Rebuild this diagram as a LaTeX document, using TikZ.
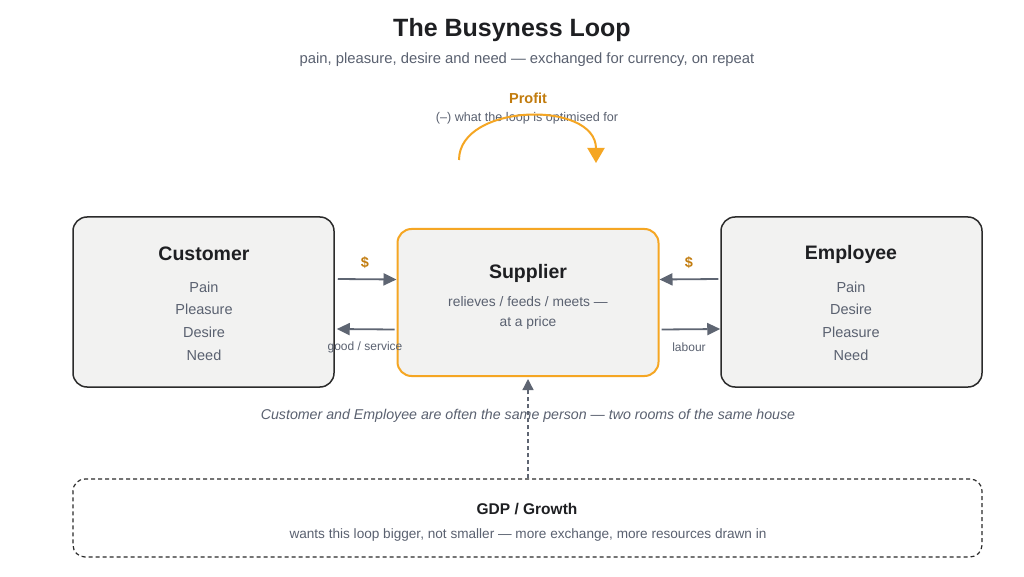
\documentclass[tikz,border=0pt]{standalone}
\usepackage{fontspec}
\setmainfont{Liberation Sans}
\usetikzlibrary{arrows.meta,positioning,calc}
\definecolor{ink}{HTML}{1E1F22}
\definecolor{muted}{HTML}{5A6170}
\definecolor{boxfill}{HTML}{F2F2F1}
\definecolor{boxline}{HTML}{2B2B2B}
\definecolor{gold}{HTML}{F5A623}
\definecolor{golddark}{HTML}{C27C0E}
\definecolor{flow}{HTML}{5E6572}
\begin{document}
\begin{tikzpicture}[x=1pt,y=-1pt,
    box/.style={draw=boxline, line width=1.5pt, fill=boxfill, rounded corners=14pt,
      minimum width=261pt, minimum height=170pt},
    supbox/.style={box, draw=gold, line width=2pt, minimum height=147pt},
    boxtitle/.style={font=\fontsize{19.5}{22}\selectfont\bfseries, text=ink},
    items/.style={font=\fontsize{14.5}{22.7}\selectfont, text=muted, align=center},
    flowarrow/.style={draw=flow, line width=1.8pt, -{Triangle[length=13pt,width=12pt]}},
    flowlabel/.style={font=\fontsize{12}{14}\selectfont, text=muted},
    money/.style={font=\fontsize{14.5}{16}\selectfont\bfseries, text=golddark}]
  \fill[white] (0,0) rectangle (1024,577);
  \useasboundingbox (0,0) rectangle (1024,577);

  % heading
  \node[font=\fontsize{25}{28}\selectfont\bfseries, text=ink] (title) at (512,30) {The Busyness Loop};
  \node[font=\fontsize{14.8}{17}\selectfont, text=muted] (subtitle) at (527,60)
    {pain, pleasure, desire and need — exchanged for currency, on repeat};

  % profit loop
  \node[font=\fontsize{14.5}{17}\selectfont\bfseries, text=golddark] (profit) at (528,98) {Profit};
  \node[font=\fontsize{12.6}{14}\selectfont, text=muted] (profitnote) at (527,118) {(–) what the loop is optimised for};
  \coordinate (loopstart) at (459,160);
  \coordinate (loopend) at (596,163);
  \draw[gold, line width=2pt, -{Triangle[length=15pt,width=17pt]}]
    (loopstart) .. controls (459,103) and (596,100) .. (loopend);

  % the three rooms
  \node[box] (cust) at (203.5,302) {};
  \node[boxtitle] at (204,254) {Customer};
  \node[items] at (204,321) {Pain\\Pleasure\\Desire\\Need};

  \node[supbox] (sup) at (528,302.5) {};
  \node[boxtitle] at (528,273) {Supplier};
  \node[items, font=\fontsize{13.8}{20}\selectfont] at (528,313) {relieves / feeds / meets —\\at a price};

  \node[box] (emp) at (851.5,302) {};
  \node[boxtitle] at (851,254) {Employee};
  \node[items] at (851,321) {Pain\\Desire\\Pleasure\\Need};

  % exchanges
  \draw[flowarrow] ([xshift=3pt,yshift=23pt]cust.east) -- ([yshift=23pt]sup.west);
  \draw[flowarrow] ([xshift=-2pt,yshift=-27pt]sup.west) -- ([xshift=2pt,yshift=-27pt]cust.east);
  \draw[flowarrow] ([xshift=-2pt,yshift=23pt]emp.west) -- ([yshift=23pt]sup.east);
  \draw[flowarrow] ([xshift=2pt,yshift=-27pt]sup.east) -- ([yshift=-27pt]emp.west);
  \node[money] at (365,263) {\$};
  \node[money] at (689,263) {\$};
  \node[flowlabel] at (365,347) {good / service};
  \node[flowlabel] at (689,347) {labour};

  % growth
  \node[draw=boxline, line width=1.2pt, dash pattern=on 4pt off 3pt, rounded corners=12pt,
    minimum width=909pt, minimum height=78pt] (gdp) at (527.5,518) {};
  \node[font=\fontsize{15.5}{18}\selectfont\bfseries, text=ink] at (527,509) {GDP / Growth};
  \node[font=\fontsize{13.6}{15}\selectfont, text=muted] at (528,535)
    {wants this loop bigger, not smaller — more exchange, more resources drawn in};
  \draw[flow, line width=1.3pt, dash pattern=on 4pt off 3pt, -{Triangle[length=11pt,width=11pt]}]
    (gdp.north -| sup.south) -- ([yshift=-2pt]sup.south);
  \node[font=\fontsize{14.2}{16}\selectfont\itshape, text=muted] at (528,416)
    {Customer and Employee are often the same person — two rooms of the same house};
\end{tikzpicture}
\end{document}
